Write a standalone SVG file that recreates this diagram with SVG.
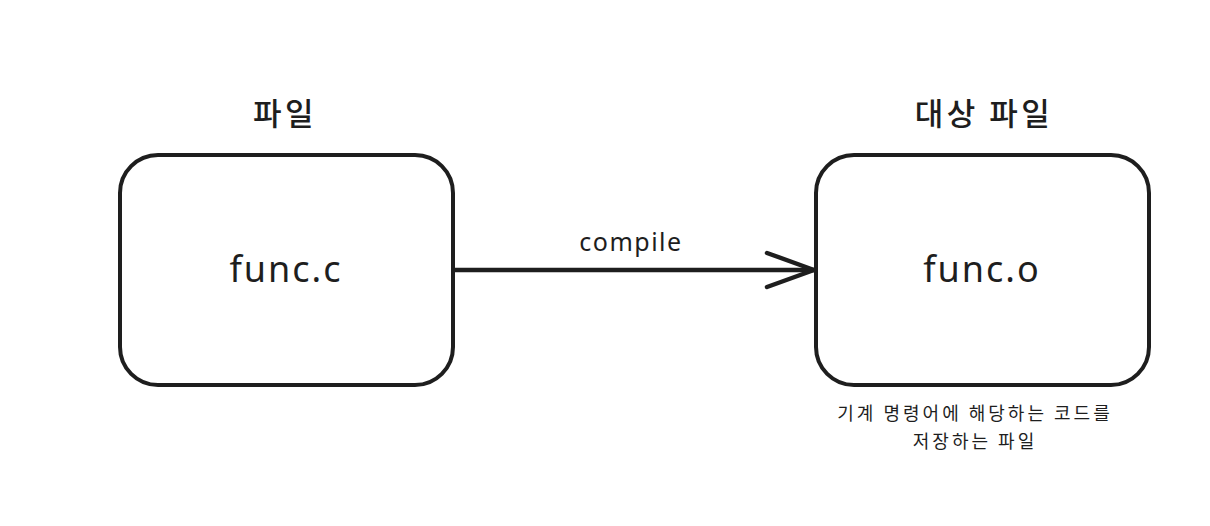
<svg xmlns="http://www.w3.org/2000/svg" width="1210" height="526" viewBox="0 0 1210 526">
<style>
.box{fill:#fff;stroke:#1e1e1e;stroke-width:4;stroke-linejoin:round}
.conn{fill:none;stroke:#1e1e1e;stroke-width:4.5;stroke-linecap:round;stroke-linejoin:round}
.title{font-family:"Noto Sans CJK KR","Noto Sans",sans-serif;font-size:31px;font-weight:500;fill:#1e1e1e;text-anchor:middle;letter-spacing:3.5px}
.label{font-family:"Noto Sans","Liberation Sans",sans-serif;font-size:36px;fill:#1e1e1e;text-anchor:middle;letter-spacing:2px}
.edge{font-family:"Noto Sans","Liberation Sans",sans-serif;font-size:25px;fill:#1e1e1e;text-anchor:middle;letter-spacing:1.5px}
.note{font-family:"Noto Sans CJK KR","Noto Sans",sans-serif;font-size:18px;fill:#1e1e1e;text-anchor:middle;letter-spacing:3px}
</style>
<rect width="1210" height="526" fill="#fff"/>
<g id="connectors">
<line class="conn" x1="453" y1="270" x2="814" y2="270"/>
<polyline class="conn" points="767,253 814,270 767,287"/>
<text class="edge" x="631" y="251">compile</text>
</g>
<g id="node-src">
<text class="title" x="285" y="125">파일</text>
<rect class="box" x="120" y="155" width="333" height="230" rx="38" ry="38"/>
<text class="label" x="286" y="282">func.c</text>
</g>
<g id="node-obj">
<text class="title" x="984" y="125">대상 파일</text>
<rect class="box" x="816" y="155" width="333" height="230" rx="38" ry="38"/>
<text class="label" x="982" y="282">func.o</text>
<text class="note" x="975" y="420">기계 명령어에 해당하는 코드를</text>
<text class="note" x="975" y="448">저장하는 파일</text>
</g>
</svg>
